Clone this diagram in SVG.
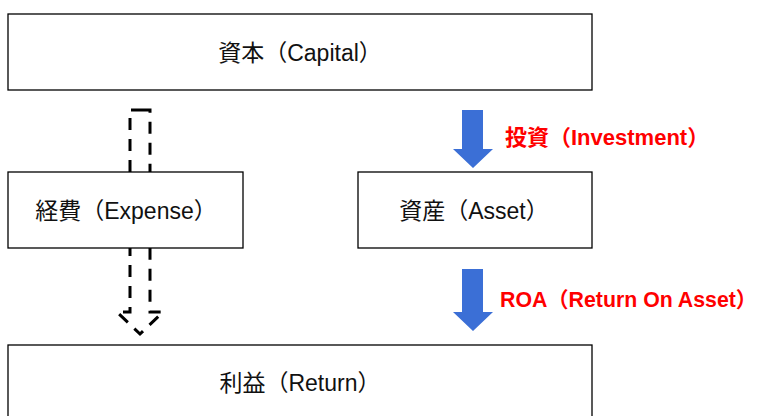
<svg xmlns="http://www.w3.org/2000/svg" width="759" height="416" viewBox="0 0 759 416">
<style>
.box{fill:#fff;stroke:#000;stroke-width:1.3}
.lbl{font-family:"Liberation Sans","Noto Sans CJK JP",sans-serif;font-size:23px;fill:#111;text-anchor:middle}
.red{font-family:"Liberation Sans","Noto Sans CJK JP",sans-serif;font-size:22px;font-weight:bold;fill:#ff0000}
.blue{fill:#3b6fd6}
.dash{fill:none;stroke:#000;stroke-width:3;stroke-dasharray:12 9}
</style>
<rect width="759" height="416" fill="#fff"/>
<g id="connectors">
<path class="dash" d="M143,110 L130,110 L130,312 L117,312 L140,334 L163,312 L150,312 L150,110 Z"/>
<polygon class="blue" points="462,110 483,110 483,149 493,149 473,168 453,149 462,149"/>
<polygon class="blue" points="462,269 483,269 483,312 493,312 473,331 453,312 462,312"/>
<text class="red" x="505" y="145">投資（Investment）</text>
<text class="red" x="500" y="307" style="font-size:21.3px">ROA（Return On Asset）</text>
</g>
<g id="capital"><rect class="box" x="8" y="14" width="584" height="76"/><text class="lbl" x="300" y="61">資本（Capital）</text></g>
<g id="expense"><rect class="box" x="8" y="172" width="235" height="76"/><text class="lbl" x="126" y="219">経費（Expense）</text></g>
<g id="asset"><rect class="box" x="358" y="172" width="234" height="76"/><text class="lbl" x="474" y="219">資産（Asset）</text></g>
<g id="return"><rect class="box" x="8" y="345" width="584" height="80"/><text class="lbl" x="300" y="391">利益（Return）</text></g>
</svg>
